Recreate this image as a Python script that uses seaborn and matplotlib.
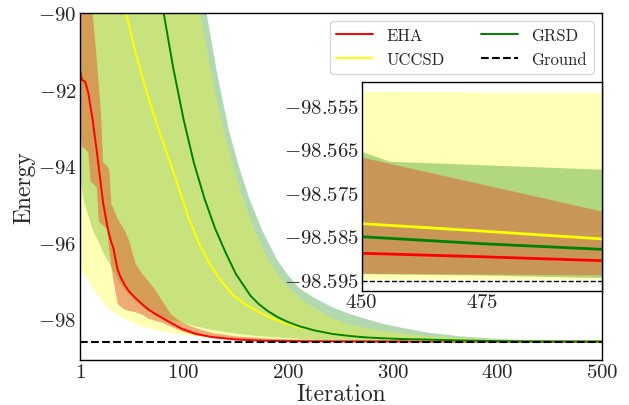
import numpy as np
import matplotlib
matplotlib.use("Agg")
import matplotlib.pyplot as plt
from matplotlib.ticker import FuncFormatter
import seaborn as sns

# ---- data: mean energy and spread bounds per ansatz ----
eha_iter = [1, 3, 6, 9, 11, 13, 15, 17, 19, 21, 23, 25, 27, 29, 31, 33, 35, 37, 39, 41,
            44, 48, 54, 60, 66, 72, 79, 88, 98, 111, 127, 149, 175, 200, 250, 300, 350,
            400, 450, 475, 500]
eha_mean = [-91.5, -91.75, -91.8, -92.1, -92.45, -92.77, -93.2, -93.6, -94.05, -94.5,
            -94.95, -95.25, -95.55, -95.8, -96.0, -96.15, -96.45, -96.7, -96.85, -96.97,
            -97.12, -97.28, -97.45, -97.6, -97.74, -97.85, -97.96, -98.1, -98.25, -98.38,
            -98.47, -98.53, -98.565, -98.578, -98.585, -98.587, -98.5878, -98.5883,
            -98.5889, -98.5897, -98.5906]
eha_lo = [-93.0, -93.5, -93.55, -93.65, -94.4, -94.45, -94.5, -94.55, -95.45, -95.5,
          -95.55, -95.6, -95.65, -96.2, -96.65, -97.0, -97.3, -97.6, -97.66, -97.7,
          -97.75, -97.79, -97.82, -97.88, -97.98, -98.04, -98.09, -98.2, -98.32, -98.42,
          -98.49, -98.55, -98.57, -98.58, -98.59, -98.592, -98.593, -98.5933, -98.5936,
          -98.5938, -98.594]
eha_hi = [-87.5, -87.8, -88.4, -89.1, -89.6, -90.0, -90.6, -91.2, -91.9, -92.6, -93.9,
          -93.95, -94.0, -94.1, -95.0, -95.1, -95.25, -95.38, -95.47, -95.55, -95.7,
          -95.95, -96.55, -96.8, -97.0, -97.2, -97.5, -97.88, -98.08, -98.23, -98.36,
          -98.45, -98.5, -98.53, -98.55, -98.56, -98.563, -98.565, -98.5669, -98.5731,
          -98.5793]

uccsd_iter = [1, 15, 30, 45, 55, 65, 75, 85, 95, 105, 115, 125, 135, 148, 160, 170, 180,
              195, 211, 227, 243, 260, 275, 290, 307, 330, 360, 400, 450, 475, 500]
uccsd_mean = [-80.0, -84.5, -87.8, -90.0, -91.13, -92.1, -92.95, -93.74, -94.53, -95.37,
              -96.03, -96.56, -96.97, -97.39, -97.63, -97.79, -97.93, -98.09, -98.22,
              -98.3, -98.37, -98.44, -98.48, -98.5, -98.52, -98.545, -98.565, -98.576,
              -98.5821, -98.5838, -98.5856]
uccsd_hi_iter = [1, 50, 90, 116, 127, 138, 147, 157, 168, 179, 190, 200, 215, 227, 243,
                 259, 280, 307, 340, 370, 400, 430, 450, 475, 500]
uccsd_hi = [-70.0, -78.0, -84.6, -90.0, -91.63, -93.03, -93.97, -94.86, -95.67, -96.35,
            -96.82, -97.16, -97.54, -97.74, -97.98, -98.15, -98.26, -98.37, -98.46, -98.5,
            -98.535, -98.547, -98.5518, -98.552, -98.5521]
uccsd_lo_iter = [1, 8, 18, 27, 37, 50, 63, 78, 95, 118, 142, 170, 200, 250, 300, 400,
                 450, 475, 500]
uccsd_lo = [-96.6, -96.95, -97.39, -97.68, -97.91, -98.08, -98.22, -98.32, -98.39, -98.47,
            -98.52, -98.55, -98.57, -98.585, -98.59, -98.594, -98.595, -98.595, -98.595]

grsd_iter = [1, 60, 70, 81, 90, 100, 110, 120, 130, 140, 150, 164, 172, 180, 190, 200,
             211, 225, 243, 260, 275, 290, 307, 338, 370, 400, 430, 450, 475, 500]
grsd_mean = [-72.0, -85.4, -87.9, -90.0, -91.42, -92.78, -93.93, -94.85, -95.62, -96.25,
             -96.82, -97.39, -97.61, -97.78, -97.95, -98.08, -98.19, -98.295, -98.39,
             -98.445, -98.48, -98.5, -98.52, -98.54, -98.562, -98.577, -98.583, -98.5851,
             -98.5867, -98.588]
grsd_hi_iter = [1, 60, 100, 122, 132, 143, 153, 163, 175, 189, 200, 211, 227, 243, 259,
                275, 290, 307, 335, 364, 402, 430, 450, 456, 500]
grsd_hi = [-70.0, -80.0, -85.3, -90.0, -91.56, -93.03, -94.02, -94.86, -95.67, -96.43,
           -96.86, -97.2, -97.48, -97.7, -97.87, -98.0, -98.12, -98.22, -98.36, -98.45,
           -98.52, -98.55, -98.5656, -98.5679, -98.5697]
grsd_lo_iter = [1, 5, 13, 24, 34, 40, 47, 63, 79, 95, 110, 125, 142, 165, 200, 230, 260,
                300, 350, 450, 475, 500]
grsd_lo = [-94.3, -94.95, -95.65, -96.3, -96.8, -97.1, -97.35, -97.74, -97.96, -98.07,
           -98.18, -98.27, -98.35, -98.43, -98.5, -98.54, -98.56, -98.575, -98.585,
           -98.5937, -98.594, -98.5946]

ground_energy = -98.5953

# ---- style ----
sns.set_style("white")
plt.rcParams.update({
    "font.family": "serif",
    "font.serif": ["cmr10"],
    "mathtext.fontset": "cm",
    "axes.formatter.use_mathtext": True,
    "axes.unicode_minus": True,
    "axes.edgecolor": "black",
    "axes.linewidth": 1.0,
})

C_EHA_LINE, C_EHA_BAND = "red", (222 / 255, 88 / 255, 52 / 255)
C_UCC_LINE, C_UCC_BAND = "#ffff00", (1.0, 1.0, 0.0)
C_GRSD_LINE, C_GRSD_BAND = "green", (0.0, 0.5, 0.0)


def band(ax, x_lo, lo, x_hi, hi, color, alpha):
    xs = np.concatenate([np.asarray(x_lo, float), np.asarray(x_hi, float)[::-1]])
    ys = np.concatenate([np.asarray(lo, float), np.asarray(hi, float)[::-1]])
    ax.fill(xs, ys, color=color, alpha=alpha, lw=0)


def draw_bands(ax, order):
    for name in order:
        if name == "GRSD":
            band(ax, grsd_lo_iter, grsd_lo, grsd_hi_iter, grsd_hi, C_GRSD_BAND, 0.3)
        elif name == "UCCSD":
            band(ax, uccsd_lo_iter, uccsd_lo, uccsd_hi_iter, uccsd_hi, C_UCC_BAND, 0.29)
        else:
            band(ax, eha_iter, eha_lo, eha_iter, eha_hi, C_EHA_BAND, 0.5)


def draw_lines(ax, lw, legend):
    sns.lineplot(x=eha_iter, y=eha_mean, color=C_EHA_LINE, lw=lw, ax=ax,
                 label="EHA" if legend else None, legend=legend)
    sns.lineplot(x=uccsd_iter, y=uccsd_mean, color=C_UCC_LINE, lw=lw, ax=ax,
                 label="UCCSD" if legend else None, legend=legend)
    sns.lineplot(x=grsd_iter, y=grsd_mean, color=C_GRSD_LINE, lw=lw, ax=ax,
                 label="GRSD" if legend else None, legend=legend)


fig = plt.figure(figsize=(6.29, 4.06), dpi=100)

# ---- main panel ----
ax = fig.add_axes([0.1272, 0.1108, 0.8298, 0.8547])
draw_bands(ax, ["GRSD", "UCCSD", "EHA"])
draw_lines(ax, 1.4, True)
ax.axhline(ground_energy, color="black", ls="--", lw=1.5, label="Ground")
ax.set_xlim(1, 500)
ax.set_ylim(-99.07, -90)
ax.set_xticks([1, 100, 200, 300, 400, 500])
ax.set_yticks([-98, -96, -94, -92, -90])
ax.tick_params(direction="in", length=3.5, width=0.8, labelsize=15, pad=2.5)
ax.set_xlabel("Iteration", fontsize=17, labelpad=1)
ax.set_ylabel("Energy", fontsize=17, labelpad=2)
ax.legend(loc="upper right", ncol=2, fontsize=12, handlelength=2.2,
          columnspacing=2.2, handletextpad=0.8, framealpha=0.8)

# ---- zoomed panel on the final iterations ----
axin = fig.add_axes([0.575, 0.2815, 0.382, 0.5148])
draw_bands(axin, ["UCCSD", "GRSD", "EHA"])
draw_lines(axin, 2.0, False)
axin.axhline(ground_energy, color="black", ls="--", lw=1.0)
axin.set_xlim(450, 500)
axin.set_ylim(-98.5975, -98.5495)
axin.set_xticks([450, 475])
axin.set_yticks([-98.555, -98.565, -98.575, -98.585, -98.595])
axin.yaxis.set_major_formatter(FuncFormatter(lambda v, _: rf"$\mathdefault{{{v:.3f}}}$"))
axin.tick_params(direction="in", length=3.5, width=0.8, labelsize=15, pad=2)
axin.set_xlabel("")
axin.set_ylabel("")

fig.savefig("out.png", dpi=100)
